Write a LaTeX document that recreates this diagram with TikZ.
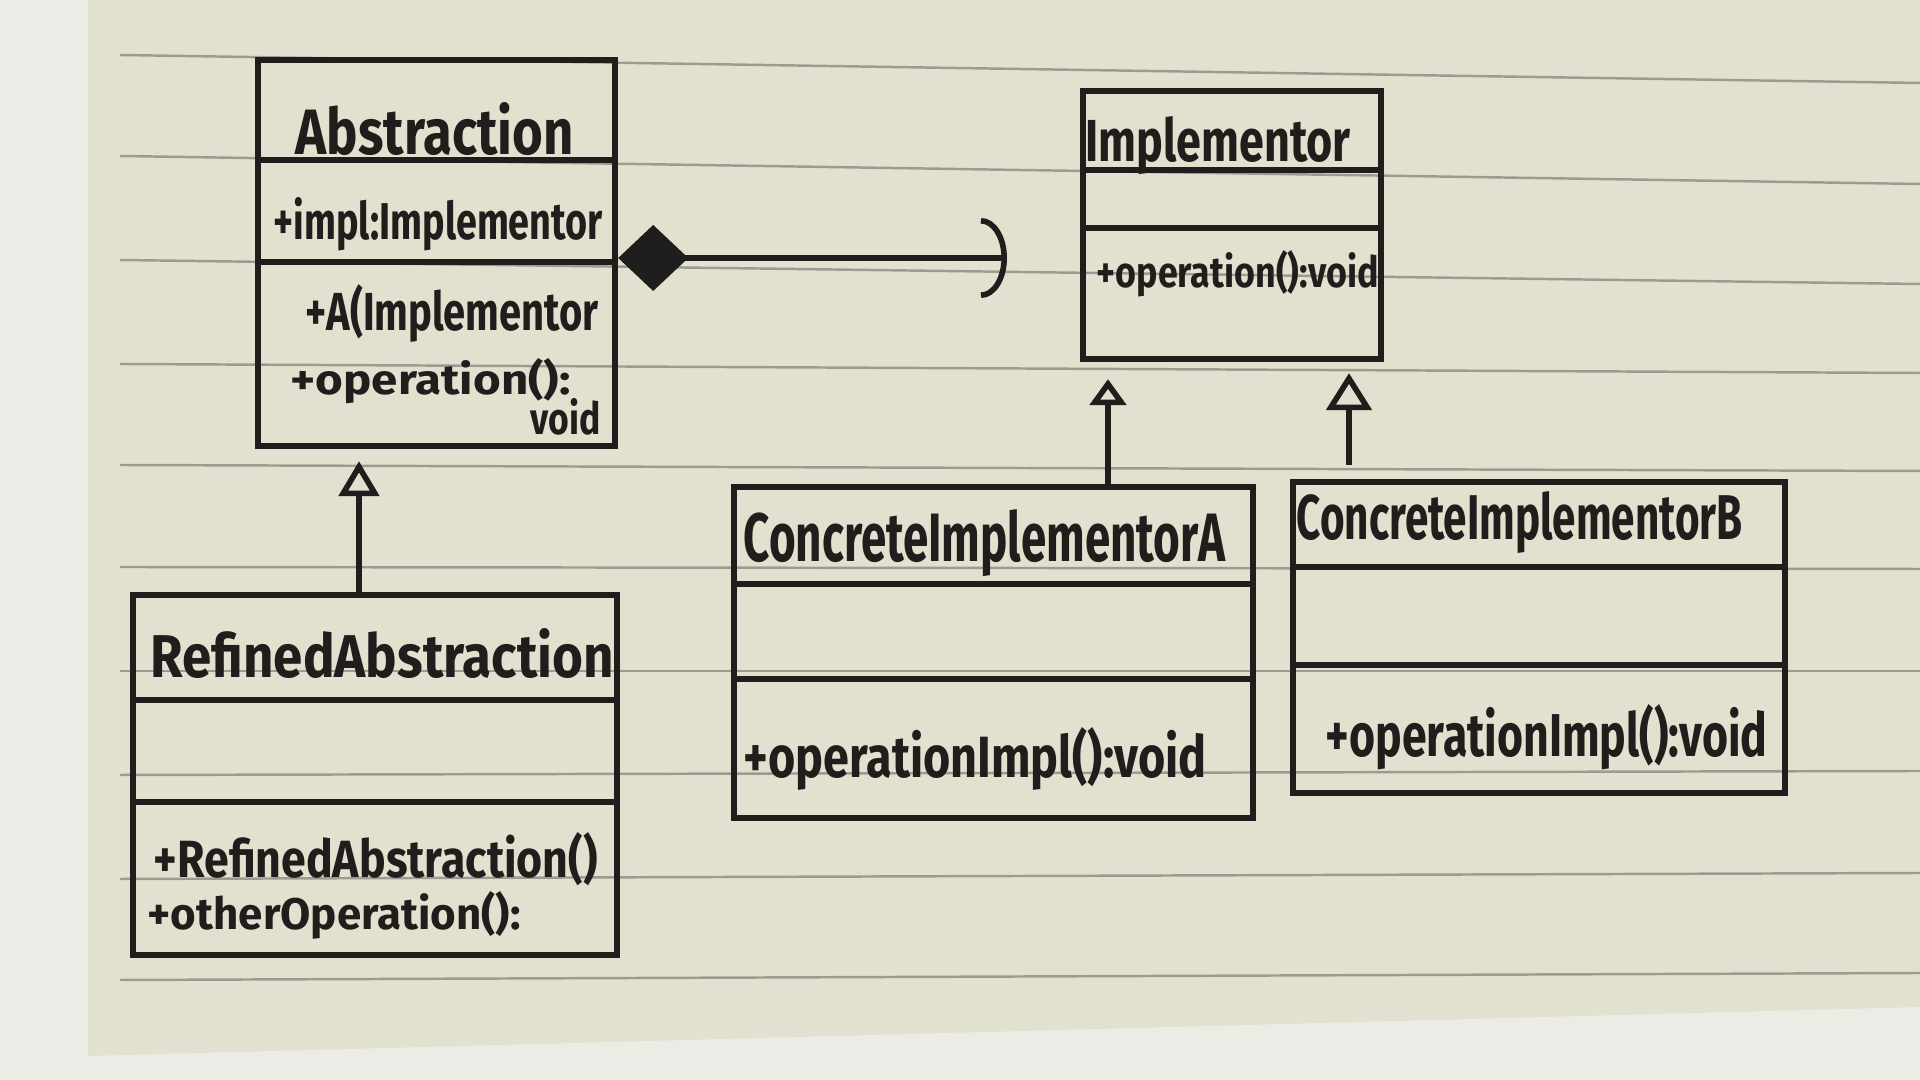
\documentclass[tikz,border=0pt]{standalone}
\usepackage{fontspec}
\setmainfont{Fira Sans}
\usetikzlibrary{arrows.meta}
\newdimen\pxu \pxu=0.01cm
\newcommand\hw[3]{\resizebox{#1\pxu}{#2\pxu}{\bfseries #3}}
\definecolor{paper}{RGB}{226,224,206}
\definecolor{paperlight}{RGB}{236,236,230}
\definecolor{rulecol}{RGB}{155,155,145}
\definecolor{ink}{RGB}{32,30,28}
\begin{document}
\begin{tikzpicture}[x=0.01cm,y=-0.01cm,
  cls/.style={draw=ink, line width=1.7pt, rectangle, inner sep=0pt, anchor=north west},
  txt/.style={anchor=base west, inner sep=0pt, text=ink},
  div/.style={draw=ink, line width=1.7pt},
  ruling/.style={draw=rulecol, line width=0.7pt},
  inh/.style={draw=ink, line width=1.6pt, -{Triangle[open, length=0.35cm, width=0.40cm]}},
  comp/.style={draw=ink, line width=1.6pt, {Diamond[fill=ink, length=0.70cm, width=0.66cm]}-{Arc Barb[length=0.26cm, width=0.80cm]}}
]
\useasboundingbox (0,0) rectangle (1920,1080);
% paper
\fill[paper] (0,0) rectangle (1920,1080);
\fill[paperlight] (0,0) rectangle (88,1080);
\fill[paperlight] (88,1056) -- (1920,1007) -- (1920,1080) -- (88,1080) -- cycle;
\foreach \a/\b in {55/83,156/184,260/284,364/373,465/471,567/569,671/671,775/771,879/873,980/973}
  \draw[ruling] (120,\a) -- (1920,\b);

% classes
\node[cls, minimum width=3.57cm, minimum height=3.86cm] (abs) at (255,57) {};
\node[cls, minimum width=2.98cm, minimum height=2.68cm] (impl) at (1080,88) {};
\node[cls, minimum width=4.84cm, minimum height=3.60cm] (ra) at (130,592) {};
\node[cls, minimum width=5.19cm, minimum height=3.31cm] (cia) at (731,484) {};
\node[cls, minimum width=4.92cm, minimum height=3.11cm] (cib) at (1290,479) {};

% compartments
\draw[div] (abs.west |- 0,160) -- (abs.east |- 0,160);
\draw[div] (abs.west |- 0,262) -- (abs.east |- 0,262);
\draw[div] (impl.west |- 0,170) -- (impl.east |- 0,170);
\draw[div] (impl.west |- 0,228) -- (impl.east |- 0,228);
\draw[div] (ra.west |- 0,700) -- (ra.east |- 0,700);
\draw[div] (ra.west |- 0,802) -- (ra.east |- 0,802);
\draw[div] (cia.west |- 0,584) -- (cia.east |- 0,584);
\draw[div] (cia.west |- 0,679) -- (cia.east |- 0,679);
\draw[div] (cib.west |- 0,567) -- (cib.east |- 0,567);
\draw[div] (cib.west |- 0,665) -- (cib.east |- 0,665);

% texts
\node[txt] (absN)  at (295,155) {\hw{278}{52}{Abstraction}};
\node[txt] (absA)  at (273,240) {\hw{329}{42}{+impl:Implementor}};
\node[txt] (absO1) at (305,331) {\hw{293}{46}{+A(Implementor}};
\node[txt] (absO2) at (290,395) {\hw{280}{36}{+operation():}};
\node[txt] (absO3) at (530,435) {\hw{70}{36}{void}};

\node[txt] (implN) at (1085,162) {\hw{265}{45}{Implementor}};
\node[txt] (implO) at (1096,288) {\hw{282}{37}{+operation():void}};

\node[txt] (raN)  at (150,678) {\hw{463}{49}{RefinedAbstraction}};
\node[txt] (raO1) at (153,878) {\hw{444}{45}{+RefinedAbstraction()}};
\node[txt] (raO2) at (147,930) {\hw{373}{38}{+otherOperation():}};

\node[txt] (ciaN) at (743,562) {\hw{482}{52}{ConcreteImplementorA}};
\node[txt] (ciaO) at (743,778) {\hw{463}{50}{+operationImpl():void}};

\node[txt] (cibN) at (1296,540) {\hw{446}{48}{ConcreteImplementorB}};
\node[txt] (cibO) at (1325,757) {\hw{442}{52}{+operationImpl():void}};

% connectors
\coordinate (compEnd) at (1007,258);
\draw[comp] (abs.east |- 0,258) -- (compEnd);
\draw[inh, shorten >=0.12cm] (ra.north -| 359,0) -- (abs.south -| 359,0);
\draw[inh, shorten >=0.17cm, -{Triangle[open, length=0.26cm, width=0.36cm]}] (cia.north -| 1108,0) -- (impl.south -| 1108,0);
\draw[inh, shorten >=0.11cm, shorten <=0.14cm, -{Triangle[open, length=0.37cm, width=0.45cm]}] (cib.north -| 1349,0) -- (impl.south -| 1349,0);
\end{tikzpicture}
\end{document}
